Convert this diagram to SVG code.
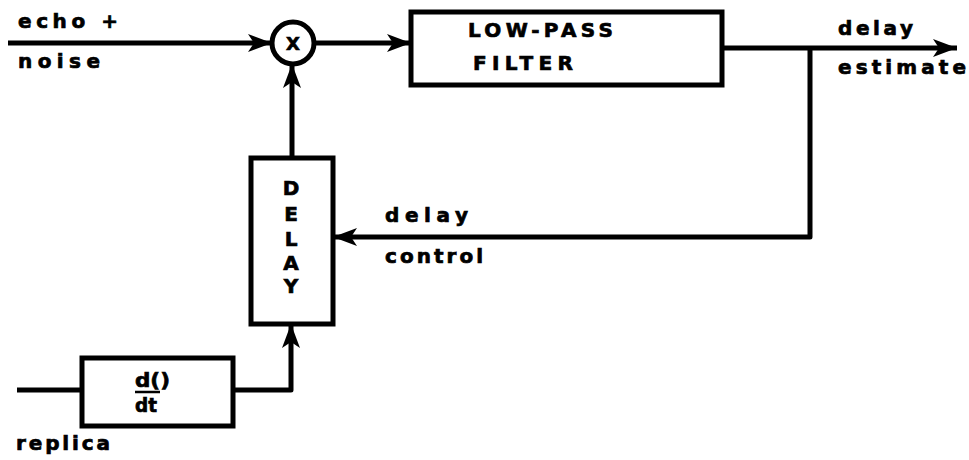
<svg xmlns="http://www.w3.org/2000/svg" width="969" height="460" viewBox="0 0 969 460">
<style>
.t{font-family:"DejaVu Sans","Liberation Sans",sans-serif;font-weight:bold;font-size:20px;fill:#000;stroke:#000;stroke-width:0.7}
.box{fill:#fff;stroke:#000;stroke-width:5}
.ln{fill:none;stroke:#000;stroke-width:5;stroke-linejoin:round}
</style>
<defs>
<marker id="ah" markerUnits="userSpaceOnUse" markerWidth="26" markerHeight="20" refX="24" refY="9" orient="auto" viewBox="0 0 26 18">
<path d="M0,0 L24,9 L0,18 L6,9 Z" fill="#000"/>
</marker>
</defs>
<rect width="969" height="460" fill="#fff"/>
<g id="connectors">
<path class="ln" d="M8,43 L272,43" marker-end="url(#ah)"/>
<path class="ln" d="M314,43 L411,43" marker-end="url(#ah)"/>
<path class="ln" d="M292,158 L292,64" marker-end="url(#ah)"/>
<path class="ln" d="M722,48 L957,48" marker-end="url(#ah)"/>
<path class="ln" d="M810,48 L810,237 L333,237" marker-end="url(#ah)"/>
<path class="ln" d="M17,390 L82,390"/>
<path class="ln" d="M233,390 L291,390 L291,324" marker-end="url(#ah)"/>
</g>
<g id="multiplier">
<circle cx="293" cy="43" r="21" fill="#fff" stroke="#000" stroke-width="5"/>
<text class="t" x="293" y="50" text-anchor="middle" style="font-size:18px">X</text>
</g>
<g id="lowpass">
<rect class="box" x="411" y="12" width="311" height="73"/>
<text class="t" x="468" y="37" textLength="145" lengthAdjust="spacing">LOW-PASS</text>
<text class="t" x="473" y="70" textLength="100" lengthAdjust="spacing">FILTER</text>
</g>
<g id="delay">
<rect class="box" x="251" y="158" width="82" height="166"/>
<text class="t" x="291" y="195" text-anchor="middle">D</text>
<text class="t" x="291" y="221" text-anchor="middle">E</text>
<text class="t" x="291" y="246" text-anchor="middle">L</text>
<text class="t" x="291" y="270" text-anchor="middle">A</text>
<text class="t" x="291" y="293" text-anchor="middle">Y</text>
</g>
<g id="derivative">
<rect class="box" x="82" y="358" width="151" height="68"/>
<text class="t" x="135" y="387" textLength="35" lengthAdjust="spacingAndGlyphs">d()</text>
<line x1="135" y1="392" x2="160" y2="392" stroke="#000" stroke-width="2.5"/>
<text class="t" x="135" y="412" textLength="22" lengthAdjust="spacingAndGlyphs">dt</text>
</g>
<g id="labels">
<text class="t" x="18" y="28" textLength="100" lengthAdjust="spacing">echo +</text>
<text class="t" x="18" y="68" textLength="82" lengthAdjust="spacing">noise</text>
<text class="t" x="838" y="35" textLength="75" lengthAdjust="spacing">delay</text>
<text class="t" x="838" y="74" textLength="128" lengthAdjust="spacing">estimate</text>
<text class="t" x="385" y="222" textLength="83" lengthAdjust="spacing">delay</text>
<text class="t" x="385" y="263" textLength="98" lengthAdjust="spacing">control</text>
<text class="t" x="16" y="450" textLength="94" lengthAdjust="spacing">replica</text>
</g>
</svg>
